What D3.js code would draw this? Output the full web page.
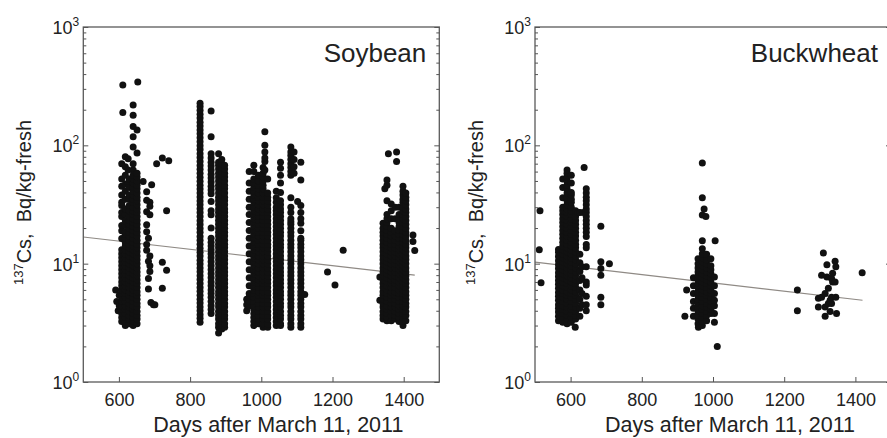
<!DOCTYPE html>
<html>
<head>
<meta charset="utf-8">
<script src="https://cdn.jsdelivr.net/npm/d3@7"></script>
<style>
body { margin: 0; background: #fff; }
text { font-family: "Liberation Sans", Arial, sans-serif; fill: #222; }
.tick line { stroke: #555; }
</style>
</head>
<body>
<div id="chart"></div>
<script>
// Cs-137 in soybean and buckwheat vs days after March 11, 2011
// Each column: [day, value, value, ...]  (Bq/kg-fresh)
// =======================================

var soyGroup600 = [
    [591, 6.0],
    [594, 4.8],
    [598, 4.0],
    [601, 5.4, 4.4],
    [608, 3.25, 3.5, 3.8, 4.1, 4.4, 4.8, 5.2, 5.6, 6.0, 6.5, 7.0, 7.6, 8.2, 8.9, 9.6, 10.4, 11.2, 12.1, 13.1, 16.3, 19, 21, 25, 27, 31, 33, 38, 45, 52, 70],
    [611, 189, 324],
    [618, 3.0, 3.25, 3.5, 3.8, 4.1, 4.4, 4.8, 5.2, 5.6, 6.0, 6.5, 7.0, 7.6, 8.2, 8.9, 9.6, 10.4, 11.2, 12.1, 13.1, 14.1, 15.2, 16.4, 17.7, 18.6, 21, 23, 26, 29, 35, 41, 47, 56, 66, 80],
    [626, 48, 62, 77],
    [629, 3.1, 3.4, 3.65, 3.95, 4.3, 4.6, 5.0, 5.4, 5.8, 6.3, 6.8, 7.3, 7.9, 8.5, 9.2, 10, 10.8, 11.6, 12.6, 13.6, 14.6, 15.8, 17.1, 18.4, 19.9, 21.5, 23.2, 25, 28, 31, 35, 38, 44, 52],
    [640, 3.0, 3.25, 3.5, 3.8, 4.1, 4.4, 4.8, 5.2, 5.6, 6.0, 6.5, 7.0, 7.6, 8.2, 8.9, 9.6, 10.4, 11.2, 12.1, 13.1, 14.1, 15.2, 16.4, 17.7, 19.1, 20.6, 22.3, 24, 26, 28, 30, 33, 35, 38, 41, 44, 48, 52, 56, 62, 70, 97, 118, 144, 180, 219],
    [651, 3.1, 3.4, 3.65, 3.95, 4.3, 4.6, 5.0, 5.4, 5.8, 6.3, 6.8, 7.3, 7.9, 8.5, 9.2, 10, 10.8, 11.6, 12.6, 13.6, 14.6, 15.8, 17.1, 18.4, 19.9, 21.5, 23.2, 25, 27, 29, 31.5, 34, 36.5, 39.5, 43, 46, 50, 54, 58, 86, 135],
    [653, 343],
    [668, 49.4],
    [678, 40.5, 34.4, 27.5, 21.3, 18.6, 14.5, 13],
    [683, 16.4, 10.5, 7.5, 6.1],
    [687, 33, 30.6, 25.9, 11.6, 9.6, 8.6],
    [690, 4.7],
    [692, 46.5],
    [697, 4.5],
    [701, 4.5],
    [706, 70],
    [722, 78, 10.3, 6.2],
    [734, 28, 8.8],
    [740, 74]
];

var soyGroup850 = [
    [828, 3.2, 3.45, 3.7, 4.0, 4.3, 4.65, 5.0, 5.4, 5.85, 6.3, 6.8, 7.35, 7.9, 8.55, 9.2, 9.95, 10.7, 11.6, 12.5, 13.5, 14.6, 15.8, 17, 18.4, 19.8, 21.4, 23.1, 25, 27, 29.1, 31.4, 33.9, 36.6, 39.5, 42.7, 46.1, 49.8, 53.8, 58, 62.7, 67.7, 73, 79, 85, 92, 99, 107, 116, 125, 135, 146, 157, 170, 183, 198, 213, 227],
    [859, 3.8, 4.1, 4.4, 4.8, 5.2, 5.6, 6.0, 6.5, 7.0, 7.6, 8.2, 8.9, 9.6, 10.4, 11.2, 12.1, 13.1, 14.1, 15.2, 16.4, 20, 25.9, 28, 33.5, 39, 42, 45, 49, 53, 57, 62, 67, 72, 78, 85, 118, 195],
    [880, 2.6, 2.9, 3.1, 3.4, 3.65, 3.95, 4.3, 4.6, 5.0, 5.4, 5.8, 6.3, 6.8, 7.3, 7.9, 8.5, 9.2, 10, 10.8, 11.6, 12.6, 13.6, 14.6, 15.8, 17.1, 18.4, 19.9, 21.5, 23.2, 25, 27, 29, 31.5, 34, 36.5, 39.5, 43, 46, 50, 54, 58, 63, 68, 72, 85],
    [889, 2.8, 3.0, 3.25, 3.5, 3.8, 4.1, 4.4, 4.8, 5.2, 5.6, 6.0, 6.5, 7.0, 7.6, 8.2, 8.9, 9.6, 10.4, 11.2, 12.1, 13.1, 14.1, 15.2, 16.4, 17.7, 19.1, 20.6, 22.3, 24, 26, 28, 30, 33, 35, 38, 41, 44, 48, 52, 56, 60, 65, 70, 76],
    [897, 2.9, 3.1, 3.4, 3.65, 3.95, 4.3, 4.6, 5.0, 5.4, 5.8, 6.3, 6.8, 7.3, 7.9, 8.5, 9.2, 10, 10.8, 11.6, 12.6, 13.6, 14.6, 15.8, 17.1, 18.4, 19.9, 21.5, 23.2, 25, 27, 29, 31.5, 34, 36.5, 39.5, 43, 46, 50, 54, 58, 63, 68]
];

var soyGroup1000 = [
    [959, 4.0, 4.5, 5.0],
    [966, 4.4, 4.8, 5.2, 5.6, 6.5, 7.6, 8.9, 10.4, 12.1, 14.1, 16.4, 19.1, 22.3, 26, 30, 35, 41, 48, 60],
    [979, 3.0, 3.25, 3.5, 3.8, 4.1, 4.4, 4.8, 5.2, 5.6, 6.0, 6.5, 7.0, 7.6, 8.2, 8.9, 9.6, 10.4, 11.2, 12.1, 13.1, 14.1, 15.2, 16.4, 17.7, 19.1, 20.6, 22.3, 24, 26, 28, 30, 33, 35, 38, 41, 44, 48, 52, 60, 68],
    [992, 3.1, 3.4, 3.65, 3.95, 4.3, 4.6, 5.0, 5.4, 5.8, 6.3, 6.8, 7.3, 7.9, 8.5, 9.2, 10, 10.8, 11.6, 12.6, 13.6, 14.6, 15.8, 17.1, 18.4, 19.9, 21.5, 23.2, 25, 27, 29, 31.5, 34, 36.5, 39.5, 43, 46, 50, 56],
    [1005, 2.9, 3.1, 3.4, 3.65, 3.95, 4.3, 4.6, 5.0, 5.4, 5.8, 6.3, 6.8, 7.3, 7.9, 8.5, 9.2, 10, 10.8, 11.6, 12.6, 13.6, 14.6, 15.8, 17.1, 18.4, 19.9, 21.5, 23.2, 25, 27, 29, 31.5, 34, 36.5, 39.5, 43, 46, 50, 54, 58, 65],
    [1010, 62, 73, 78, 88, 100, 130],
    [1018, 2.9, 3.1, 3.4, 3.65, 3.95, 4.3, 4.6, 5.0, 5.4, 5.8, 6.3, 6.8, 7.3, 7.9, 8.5, 9.2, 10, 10.8, 11.6, 12.6, 13.6, 14.6, 15.8, 17.1, 18.4, 19.9, 21.5, 23.2, 25, 27, 29, 31.5, 34, 36.5, 39.5, 52],
    [1042, 3.0, 3.25, 3.5, 3.8, 4.1, 4.4, 4.8, 5.2, 5.6, 6.0, 6.5, 7.0, 7.6, 8.2, 8.9, 9.6, 10.4, 11.2, 12.1, 13.1, 14.1, 15.2, 16.4, 17.7, 19.1, 20.6, 22.3, 24, 26, 28, 30, 33, 36, 41],
    [1054, 3.0, 3.1, 3.4, 3.65, 3.95, 4.3, 4.6, 5.0, 5.4, 5.8, 6.3, 6.8, 7.3, 7.9, 8.5, 9.2, 10, 10.8, 11.6, 12.6, 13.6, 14.6, 15.8, 17.1, 18.4, 19.9, 21.5, 23.2, 25, 27, 29, 31.5, 34, 40, 48, 56, 64, 72],
    [1083, 2.9, 3.1, 3.4, 3.65, 3.95, 4.3, 4.6, 5.0, 5.4, 5.8, 6.3, 6.8, 7.3, 7.9, 8.5, 9.2, 10, 10.8, 11.6, 12.6, 13.6, 14.6, 15.8, 17.1, 18.4, 19.9, 21.5, 22.6, 24, 27, 30, 36, 56, 60, 65, 70, 76, 82, 88, 97],
    [1092, 58, 66, 76, 88],
    [1102, 33.5],
    [1111, 2.9, 3.1, 3.4, 3.65, 3.95, 4.3, 4.6, 5.0, 5.4, 5.8, 6.3, 6.8, 7.3, 7.9, 8.5, 9.2, 10, 10.8, 11.6, 12.6, 13.6, 14.6, 15.8, 16.4, 19, 22, 24, 27, 31, 51, 72],
    [1122, 5.5],
    [1186, 8.5],
    [1207, 6.6],
    [1230, 13]
];

var soyGroup1380 = [
    [1333, 4.9, 7.7],
    [1342, 3.4, 3.65, 3.95, 4.3, 4.6, 5.0, 5.4, 5.8, 6.3, 6.8, 7.3, 7.9, 8.5, 9.2, 10, 10.8, 11.6, 12.6, 13.6, 14.6, 15.8, 17.1, 18.4, 19.9, 22],
    [1347, 43],
    [1353, 3.3, 3.5, 3.8, 4.1, 4.4, 4.8, 5.2, 5.6, 6.0, 6.5, 7.0, 7.6, 8.2, 8.9, 9.6, 10.4, 11.2, 12.1, 13.1, 14.1, 15.2, 16.4, 17.7, 19.1, 20.6, 22.3, 24, 26, 34, 46, 51],
    [1357, 85],
    [1365, 3.3, 3.65, 3.95, 4.3, 4.6, 5.0, 5.4, 5.8, 6.3, 6.8, 7.3, 7.9, 8.5, 9.2, 10, 10.8, 11.6, 12.6, 13.6, 14.6, 15.8, 17.1, 18.4, 19.9, 24, 28, 32],
    [1376, 3.4, 3.65, 3.95, 4.3, 4.6, 5.0, 5.4, 5.8, 6.3, 6.8, 7.3, 7.9, 8.5, 9.2, 10, 10.8, 11.6, 12.6, 13.6, 14.6, 15.8, 17.1, 19, 24, 30],
    [1380, 73, 88],
    [1387, 3.25, 3.5, 3.8, 4.1, 4.4, 4.8, 5.2, 5.6, 6.0, 6.5, 7.0, 7.6, 8.2, 8.9, 9.6, 10.4, 11.2, 12.1, 13.1, 14.1, 15.2, 16.4, 17.7, 19.1, 20.6, 22.3, 24, 26, 30],
    [1398, 3.0, 3.25, 3.5, 3.8, 4.1, 4.4, 4.8, 5.2, 5.6, 6.0, 6.5, 7.0, 7.6, 8.2, 8.9, 9.6, 10.4, 11.2, 12.1, 13.1, 14.1, 15.2, 16.4, 17.7, 19.1, 20.6, 22.3, 24, 26, 28, 30, 33, 35, 38, 41, 45],
    [1406, 3.3, 3.65, 3.95, 4.3, 4.6, 5.0, 5.4, 5.8, 6.3, 6.8, 7.3, 7.9, 8.5, 9.2, 10, 10.8, 11.6, 12.6, 13.6, 14.6, 15.8, 17.1, 18.4, 19.9, 21.5, 23.2, 25, 27, 29, 31.5, 34, 36.5, 39.5],
    [1426, 15.4, 17.5],
    [1431, 12.9]
];

var buckGroup600 = [
    [512, 13.1],
    [514, 28],
    [517, 6.9],
    [566, 3.3, 3.6, 3.9, 4.2, 4.5, 4.9, 5.3, 5.7, 6.2, 6.7, 7.2, 7.8, 8.4, 9.1, 9.8, 10.6, 11.5, 12.4, 13.2],
    [578, 3.2, 3.5, 3.8, 4.1, 4.4, 4.8, 5.2, 5.6, 6.0, 6.5, 7.0, 7.6, 8.2, 8.9, 9.6, 10.4, 11.2, 12.1, 13.1, 14.1, 15.2, 16.4, 17.7, 19.1, 20.6, 22.3, 24, 26, 28, 30, 36, 44, 52],
    [590, 3.1, 3.4, 3.65, 3.95, 4.3, 4.6, 5.0, 5.4, 5.8, 6.3, 6.8, 7.3, 7.9, 8.5, 9.2, 10, 10.8, 11.6, 12.6, 13.6, 14.6, 15.8, 17.1, 18.4, 19.9, 21.5, 23.2, 25, 27, 29, 31.5, 34, 36.5, 39.5, 43, 46, 50, 54, 58, 62],
    [602, 3.2, 3.5, 3.8, 4.1, 4.4, 4.8, 5.2, 5.6, 6.0, 6.5, 7.0, 7.6, 8.2, 8.9, 9.6, 10.4, 11.2, 12.1, 13.1, 14.1, 15.2, 16.4, 17.7, 19.1, 20.6, 22.3, 24, 26, 28, 30, 33, 35, 38, 40, 48, 56],
    [613, 2.9],
    [614, 3.4, 3.65, 3.95, 4.3, 4.6, 5.0, 5.4, 5.8, 6.3, 6.8, 7.3, 7.9, 8.5, 9.2, 10, 10.8, 11.6, 12.6, 13.6, 14.6, 15.8, 17.1, 18.4, 19.9, 21.5, 23.2, 25, 28],
    [620, 27],
    [626, 3.6, 4.2, 5.0, 6.0, 7.2, 8.6, 10.2, 12, 27],
    [632, 4.5, 5.6, 7.6, 9.4],
    [636, 27],
    [638, 65],
    [644, 4.0, 4.5, 5.3, 6.6, 7.0, 9.4, 13.6, 14.5, 17, 18.4, 19.9, 21.5, 23.2, 25, 27, 29, 31.5, 34, 36.5, 39.5, 43],
    [685, 4.5, 5.2, 8.0, 9.1, 10.4, 20.7],
    [709, 10]
];

var buckGroup1000 = [
    [921, 3.6],
    [926, 6.0],
    [945, 3.6, 4.2, 4.8, 5.6, 6.5, 7.6],
    [958, 3.1, 3.4, 3.65, 3.95, 4.3, 4.6, 5.0, 5.4, 5.8, 6.3, 6.8, 7.3, 7.9, 8.5, 9.2, 10, 11],
    [959, 2.9],
    [970, 3.0, 3.25, 3.5, 3.8, 4.1, 4.4, 4.8, 5.2, 5.6, 6.0, 6.5, 7.0, 7.6, 8.2, 8.9, 9.6, 10.4, 11.2, 12.1, 13.4, 15.6, 25.8, 36, 71],
    [975, 29],
    [980, 25],
    [982, 3.3, 3.65, 3.95, 4.3, 4.6, 5.0, 5.4, 5.8, 6.3, 6.8, 7.3, 7.9, 8.5, 9.2, 10, 10.8, 12],
    [994, 3.8, 4.1, 4.4, 4.8, 5.2, 5.6, 6.0, 6.5, 7.0, 7.6, 8.2, 8.9, 9.6, 11],
    [1004, 3.2, 3.8, 4.4, 4.9, 5.6, 6.5, 7.7],
    [1006, 15.6],
    [1012, 2.0]
];

var buckGroup1300 = [
    [1237, 4.0, 6.0],
    [1296, 4.3, 5.1],
    [1305, 5.2, 8.0],
    [1310, 12.3],
    [1315, 3.6, 4.3, 5.6],
    [1320, 7.7, 9.8],
    [1324, 4.6, 6.2],
    [1329, 3.95, 4.9],
    [1333, 4.6, 5.2, 7.5],
    [1336, 7.0, 8.3],
    [1343, 7.0, 10.5],
    [1345, 5.2, 9.4],
    [1347, 3.8],
    [1419, 8.4]
];

// Regression lines: end points [day, value]
var soyFit = [[500, 16.8], [1431, 8.0]];
var buckFit = [[500, 10.3], [1420, 4.9]];

var xTickValues = [600, 800, 1000, 1200, 1400];
var yDecades = [0, 1, 2, 3];

// Layout
// =======================================
var width = 887;
var height = 438;
var plotTop = 27;
var plotW = 356;
var plotH = 355;
var dotR = 3.5;

var svg = d3.select("#chart")
    .append("svg")
    .attr("width", width)
    .attr("height", height);

var xScale = d3.scaleLinear().domain([500, 1500]).range([0, plotW]);
var yScale = d3.scaleLog().domain([1, 1000]).range([plotH, 0]);

function flatten(groups) {
    var pts = [];
    groups.forEach(function(group) {
        group.forEach(function(col) {
            for (var i = 1; i < col.length; i++) {
                pts.push([col[0], col[i]]);
            }
        });
    });
    return pts;
}

var minorTicks = [];
[1, 10, 100].forEach(function(dec) {
    for (var k = 2; k <= 9; k++) minorTicks.push(dec * k);
});
var majorTicks = yDecades.map(function(e) { return Math.pow(10, e); });

function drawPanel(left, title, groups, fit) {
    var g = svg.append("g")
        .attr("transform", "translate(" + left + "," + plotTop + ")");

    // Fit line (under the dots)
    var line = d3.line()
        .x(function(d) { return xScale(d[0]); })
        .y(function(d) { return yScale(d[1]); });
    g.append("path")
        .datum(fit)
        .attr("d", line)
        .attr("fill", "none")
        .attr("stroke", "#8f8a85")
        .attr("stroke-width", 1.1);

    // Dots
    g.selectAll("circle.dot")
        .data(flatten(groups))
        .enter()
        .append("circle")
        .attr("class", "dot")
        .attr("cx", function(d) { return xScale(d[0]); })
        .attr("cy", function(d) { return yScale(d[1]); })
        .attr("r", dotR)
        .attr("fill", "#111");

    // Frame
    g.append("rect")
        .attr("x", 0).attr("y", 0)
        .attr("width", plotW).attr("height", plotH)
        .attr("fill", "none")
        .attr("stroke", "#5a5a5a")
        .attr("stroke-width", 1.3);

    // Y ticks, both sides, pointing inward
    [[d3.axisLeft, 0], [d3.axisRight, plotW]].forEach(function(a) {
        var minor = g.append("g").attr("transform", "translate(" + a[1] + ",0)")
            .call(a[0](yScale).tickValues(minorTicks).tickSize(-3).tickSizeOuter(0).tickFormat(""));
        var major = g.append("g").attr("transform", "translate(" + a[1] + ",0)")
            .call(a[0](yScale).tickValues(majorTicks).tickSize(-5).tickSizeOuter(0).tickFormat(""));
        minor.select(".domain").remove();
        major.select(".domain").remove();
    });

    // X axis
    var xAxisG = g.append("g")
        .attr("transform", "translate(0," + plotH + ")")
        .call(d3.axisBottom(xScale).tickValues(xTickValues).tickSize(-5).tickSizeOuter(0).tickPadding(11).tickFormat(d3.format("d")));
    xAxisG.select(".domain").remove();
    xAxisG.selectAll("text")
        .attr("font-size", 18)
        .attr("font-family", "Liberation Sans, Arial, sans-serif")
        .attr("fill", "#222");

    // Y tick labels 10^n
    yDecades.forEach(function(e) {
        var t = g.append("text")
            .attr("x", -4)
            .attr("y", yScale(Math.pow(10, e)) + 7)
            .attr("text-anchor", "end")
            .attr("font-size", 18);
        t.append("tspan").text("10");
        t.append("tspan").attr("dy", -8).attr("font-size", 12).text(e);
    });

    // Y label
    var yl = g.append("text")
        .attr("transform", "translate(-52," + (plotH / 2 - 2) + ")rotate(-90)")
        .attr("text-anchor", "middle")
        .attr("font-size", 20);
    yl.append("tspan").attr("font-size", 13).attr("dy", -8).text("137");
    yl.append("tspan").attr("dy", 8).text("Cs,\u00a0\u00a0Bq/kg-fresh");

    // X label
    g.append("text")
        .attr("x", 195)
        .attr("y", 405)
        .attr("text-anchor", "middle")
        .attr("font-size", 21.5)
        .text("Days after March 11, 2011");

    // Panel title
    g.append("text")
        .attr("x", plotW - 13)
        .attr("y", 35)
        .attr("text-anchor", "end")
        .attr("font-size", 26)
        .text(title);
}

drawPanel(83.3, "Soybean", [soyGroup600, soyGroup850, soyGroup1000, soyGroup1380], soyFit);
drawPanel(535, "Buckwheat", [buckGroup600, buckGroup1000, buckGroup1300], buckFit);
</script>
</body>
</html>
